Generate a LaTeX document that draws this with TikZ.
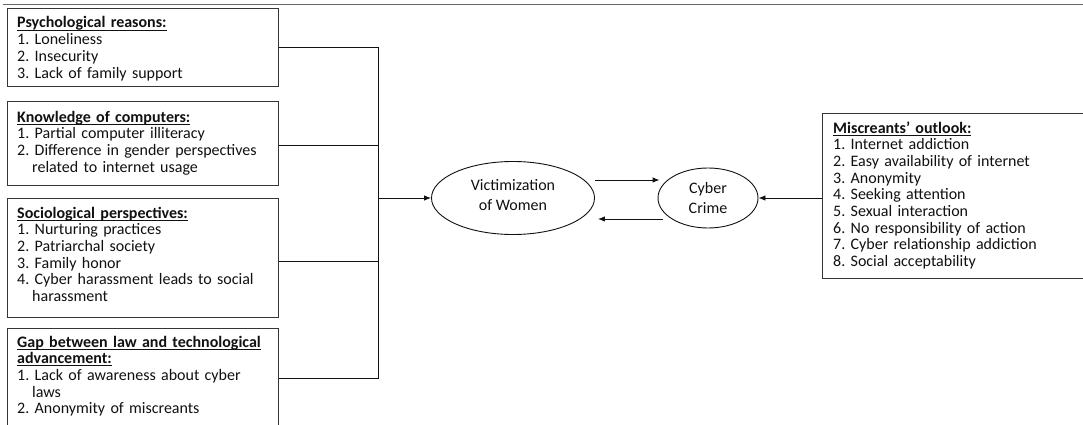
\documentclass[tikz,border=0pt]{standalone}
\usepackage{fontspec}
\setmainfont{Carlito}
\usetikzlibrary{arrows.meta,shapes.geometric}
\newcommand\myul[1]{\leavevmode\setbox0\hbox{#1}\rlap{\rule[-2.5pt]{\wd0}{0.8pt}}\box0}
\newcommand\ind{\hspace*{15pt}}
\definecolor{ink}{HTML}{111111}
\tikzset{
  box/.style={draw=ink!85, line width=1pt, anchor=north west, inner sep=0pt},
  txt/.style={text width=268pt, align=left, inner sep=0pt, anchor=base west,
    font=\fontsize{16}{16.7}\selectfont\frenchspacing, text=ink},
  oval/.style={draw=ink, line width=0.9pt, ellipse, inner sep=0pt, align=center,
    font=\fontsize{16}{20}\selectfont, text=ink},
  link/.style={draw=ink, line width=0.9pt},
  arr/.style={link, -{Latex[length=7pt,width=5.5pt]}},
}
\begin{document}
\begin{tikzpicture}[x=1pt,y=-1pt]
\useasboundingbox[fill=white] (0,0) rectangle (1083,425);
\draw[gray!80!black, line width=1pt] (3,5) -- (1083,5);

% left boxes
\node[box, minimum width=271pt, minimum height=78pt] (b1) at (7,8) {};
\node[box, minimum width=271pt, minimum height=84pt] (b2) at (7,101) {};
\node[box, minimum width=271pt, minimum height=119pt] (b3) at (7,198) {};
\node[box, minimum width=271pt, minimum height=120pt] (b4) at (7,328) {};

\node[txt] (t1) at (17,28) {\myul{\textbf{Psychological reasons:}}\\
1. Loneliness\\
2. Insecurity\\
3. Lack of family support};
\node[txt] (t2) at (17,122) {\myul{\textbf{Knowledge of computers:}}\\
1. Partial computer illiteracy\\
2. Difference in gender perspectives\\
\ind related to internet usage};
\node[txt] (t3) at (17,218) {\myul{\textbf{Sociological perspectives:}}\\
1. Nurturing practices\\
2. Patriarchal society\\
3. Family honor\\
4. Cyber harassment leads to social\\
\ind harassment};
\node[txt] (t4) at (17,347) {\myul{\textbf{Gap between law and technological}}\\
\myul{\textbf{advancement:}}\\
1. Lack of awareness about cyber\\
\ind laws\\
2. Anonymity of miscreants};

% right box
\node[box, minimum width=270pt, minimum height=165pt] (rb) at (822,113) {};
\node[txt] (t5) at (833,133) {\myul{\textbf{Miscreants’ outlook:}}\\
1. Internet addiction\\
2. Easy availability of internet\\
3. Anonymity\\
4. Seeking attention\\
5. Sexual interaction\\
6. No responsibility of action\\
7. Cyber relationship addiction\\
8. Social acceptability};

% ovals
\node[oval, minimum width=163pt, minimum height=73pt, text depth=7pt] (vic) at (513,198) {Victimization\\of Women};
\node[oval, minimum width=100pt, minimum height=60pt] (cc) at (708,198) {Cyber\\Crime};

% connectors
\coordinate (j) at (378,198);
\draw[link] (b1.east) -| (j);
\draw[link] ([yshift=-2pt]b2.east) -- ++(100,0);
\draw[link] ([yshift=-63pt]b3.north east) -- ++(100,0);
\draw[link] ([yshift=-50pt]b4.north east) -| (j);
\draw[arr] (j) -- (vic.west);
\draw[arr] ([yshift=18pt]vic.east) -- ([yshift=18pt,xshift=2pt]cc.west);
\draw[arr] ([yshift=-21pt,xshift=5pt]cc.west) -- ([yshift=-21pt,xshift=3pt]vic.east);
\draw[arr] (rb.west |- cc.east) -- (cc.east);
\end{tikzpicture}
\end{document}
